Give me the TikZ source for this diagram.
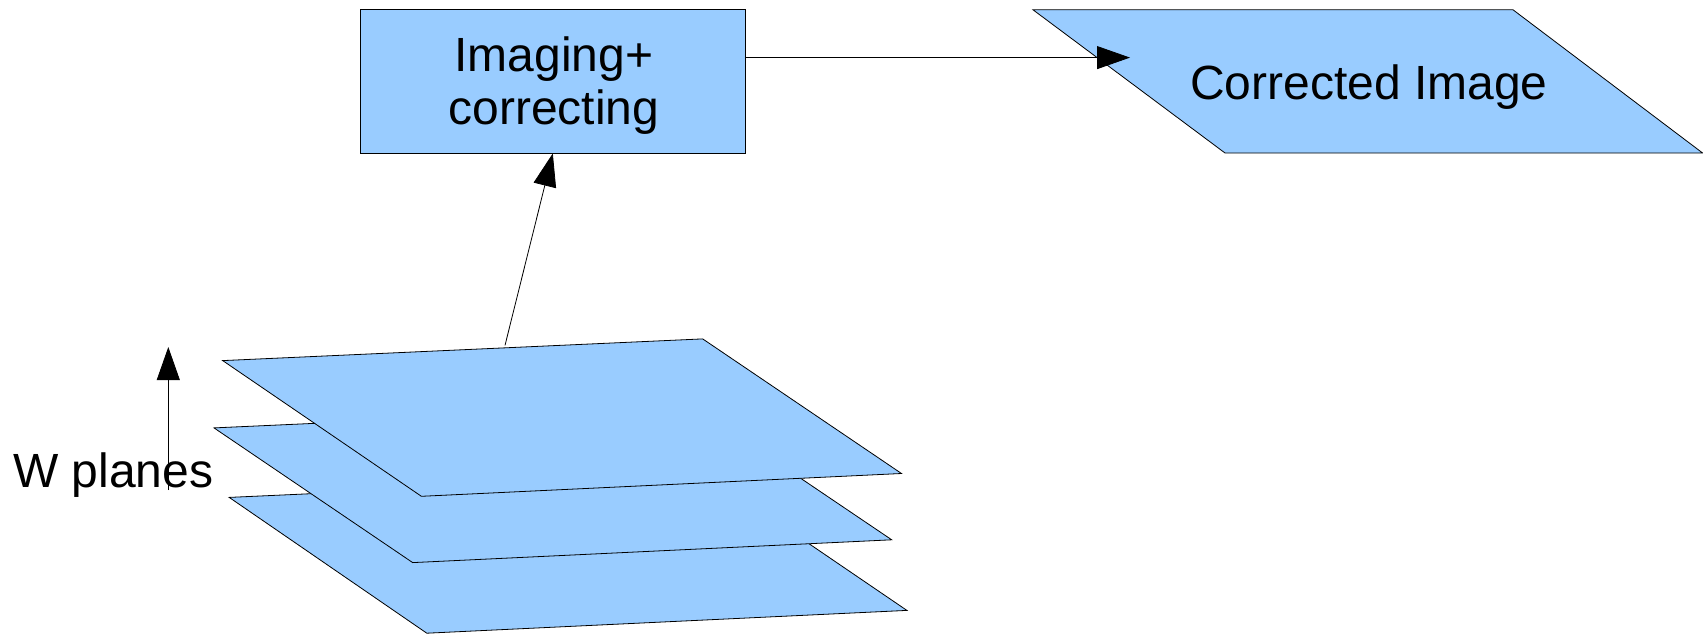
\documentclass[tikz,border=0pt]{standalone}
\usepackage{fontspec}
\setmainfont{Liberation Sans}
\usetikzlibrary{arrows.meta}
\definecolor{lblue}{HTML}{99CCFF}
\begin{document}
\begin{tikzpicture}[x=1pt,y=-1pt,
  shapestyle/.style={fill=lblue,draw=black,line width=0.8pt,line join=miter},
  conn/.style={draw=black,line width=0.8pt,-{Triangle[length=33pt,width=23pt]}},
  lbl/.style={font=\fontsize{48}{53}\selectfont,inner sep=0pt}]
\useasboundingbox (0,0) rectangle (1703,634);
% planes (bottom to top)
\path[shapestyle] (229.2,497.4) -- (709.2,475.7) -- (906.9,610.4) -- (426.8,633.2) -- cycle;
\path[shapestyle] (214,427.9) -- (694,406.2) -- (891.7,539.8) -- (412.7,562.6) -- cycle;
\path[shapestyle] (222.7,360.6) -- (702.7,338.9) -- (901.5,473.5) -- (421.4,496.3) -- cycle;
% process box
\node[shapestyle, rectangle, minimum width=384.4pt, minimum height=143.2pt] (box) at (552.8,81.4) {};
\node[lbl, align=center] (boxtext) at (554,86) {Imaging+\\correcting};
% output parallelogram
\path[shapestyle] (1033,9.8) -- (1513,9.8) -- (1702.6,153) -- (1225,153) -- cycle;
\node[lbl, anchor=base] (corr) at (1369,99.3) {Corrected Image};
% W planes label
\node[lbl, anchor=base west] (wlabel) at (13,487) {W planes};
% connectors
\coordinate (tip1) at (1130,57.6);
\draw[conn] (box.east |- tip1) -- (tip1);
\coordinate (pstart) at (505,345.4);
\draw[conn] (pstart) -- (box.south);
\coordinate (wtail) at (168.3,490);
\coordinate (whead) at (168.3,347);
\draw[conn] (wtail) -- (whead);
\end{tikzpicture}
\end{document}
